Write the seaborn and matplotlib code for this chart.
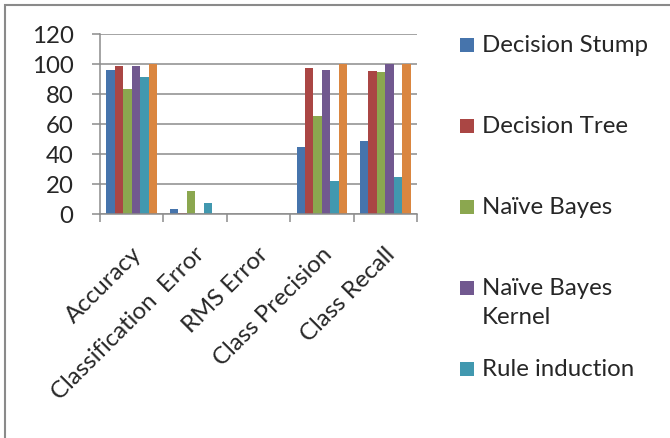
import textwrap

import matplotlib
matplotlib.use("Agg")
import matplotlib.pyplot as plt
import matplotlib.transforms as mtransforms
from matplotlib.patches import Rectangle
import numpy as np
import pandas as pd
import seaborn as sns

# Evaluation metrics (x categories)
metrics = ["Accuracy", "Classification  Error", "RMS Error",
           "Class Precision", "Class Recall"]

# Classifiers (hue series)
models = ["Decision Stump", "Decision Tree", "Naïve Bayes",
          "Naïve Bayes Kernel", "Rule induction", "Random Forest"]

# Scores per classifier, one value per metric
decision_stump = [96.0, 3.5, 0.2, 44.6, 49.0]
decision_tree = [99.0, 0.6, 0.1, 97.7, 95.5]
naive_bayes = [83.5, 15.5, 0.4, 65.5, 95.0]
naive_bayes_kernel = [99.0, 0.3, 0.1, 96.2, 100.0]
rule_induction = [91.7, 7.5, 0.3, 22.4, 24.6]
random_forest = [100.0, 0.0, 0.0, 100.0, 100.0]

colors = ["#4674AC", "#AA4644", "#8BA74F", "#71588F", "#4198AF", "#DA8640"]

y_ticks = [0, 20, 40, 60, 80, 100, 120]

series = [decision_stump, decision_tree, naive_bayes,
          naive_bayes_kernel, rule_induction, random_forest]
df = pd.DataFrame({
    "metric": np.tile(metrics, len(models)),
    "model": np.repeat(models, len(metrics)),
    "value": np.concatenate(series),
})

sns.set_theme(style="white")
plt.rcParams["font.family"] = ["Lato", "DejaVu Sans"]
FS = 17.3

W, H = 670, 438
fig = plt.figure(figsize=(W / 100, H / 100), dpi=100)
ax = fig.add_axes([100 / W, 1 - 214.3 / H, 317 / W, 180 / H])

grid_col = "#8C8C8C"

sns.barplot(data=df, x="metric", y="value", hue="model", order=metrics,
            hue_order=models, palette=colors, width=0.8, saturation=1,
            legend=False, ax=ax, linewidth=0)

ax.set_xlim(-0.5, len(metrics) - 0.5)
ax.set_ylim(0, 120)
ax.set_yticks(y_ticks)
ax.set_yticklabels([str(t) for t in y_ticks], fontsize=FS)
ax.yaxis.grid(True, color=grid_col, linewidth=1.1)
ax.set_axisbelow(True)
ax.set_xlabel("")
ax.set_ylabel("")

# category boundaries carry the tick marks, centres carry the labels
ax.set_xticks(np.arange(-0.5, len(metrics), 1.0))
ax.set_xticklabels([])
ax.set_xticks(np.arange(len(metrics)), minor=True)
ax.set_xticklabels(metrics, minor=True, rotation=45, ha="right",
                   va="top", rotation_mode="anchor", fontsize=FS)
ax.tick_params(axis="x", which="major", length=6, width=1.1,
               color=grid_col, direction="out", bottom=True)
ax.tick_params(axis="x", which="minor", length=0, pad=21)
ax.tick_params(axis="y", length=6, width=1.1, color=grid_col,
               direction="out", left=True, pad=13)
shift = mtransforms.ScaledTranslation(-1 / 100, 0, fig.dpi_scale_trans)
for lbl in ax.get_xticklabels(minor=True):
    lbl.set_transform(lbl.get_transform() + shift)

for side in ("top", "right"):
    ax.spines[side].set_visible(False)
for side in ("left", "bottom"):
    ax.spines[side].set_color(grid_col)
    ax.spines[side].set_linewidth(1.1)

# legend entries to the right of the plot (only those inside the figure)
legend_y = 45
for name, col in zip(models, colors):
    if legend_y + 12 > H:
        break
    yf = 1 - legend_y / H
    fig.patches.append(Rectangle((460 / W, yf - 7 / H), 14 / W, 14 / H,
                                 transform=fig.transFigure,
                                 facecolor=col, edgecolor="none"))
    fig.text(482 / W, yf + 10 / H, textwrap.fill(name, 15), fontsize=FS,
             ha="left", va="top", linespacing=1.45,
             transform=fig.transFigure)
    legend_y += 81

# chart area frame
fig.patches.append(Rectangle((5 / W, -0.1), 1.2, 1 - 5 / H + 0.1,
                             transform=fig.transFigure, fill=False,
                             edgecolor="#8A8A8A", linewidth=1.5))

fig.savefig("out.png", dpi=100)
